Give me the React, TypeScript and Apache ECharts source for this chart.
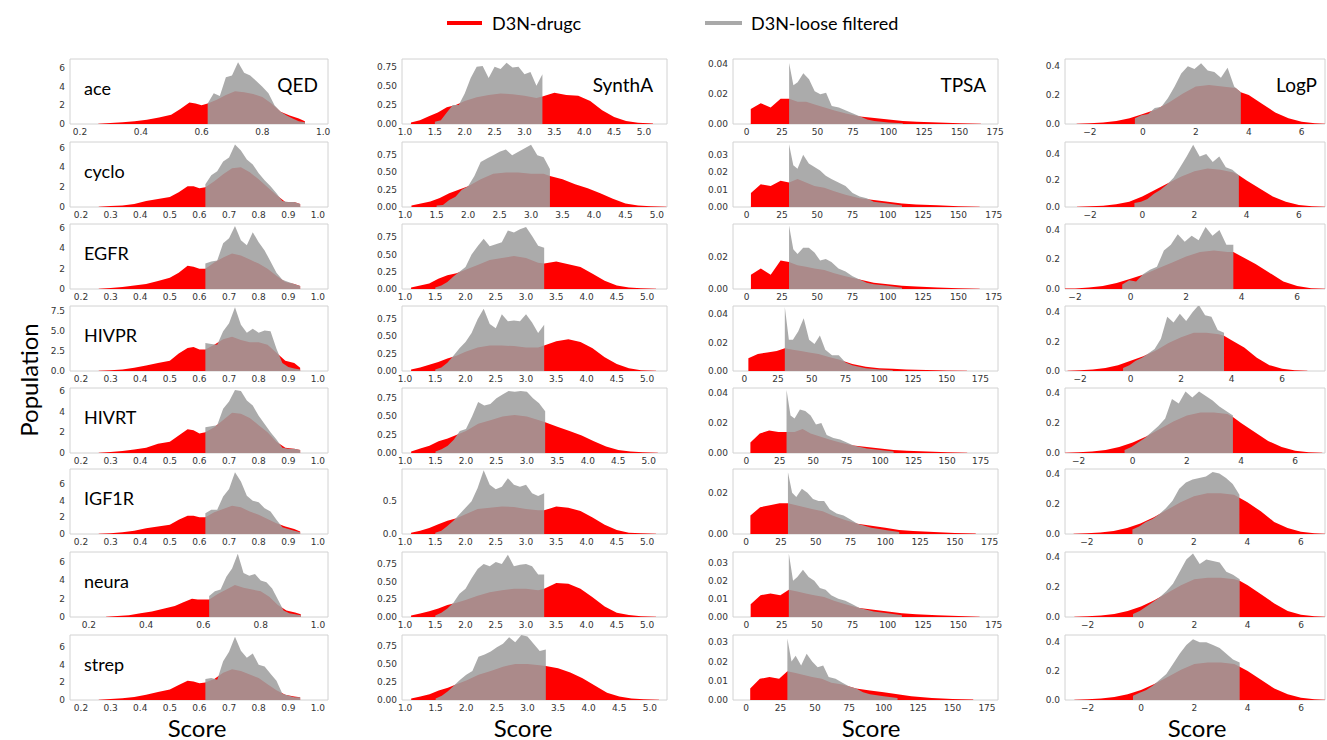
import React, { useEffect, useRef } from 'react';
import * as echarts from 'echarts';

// ---------- categories / labels ----------
const ROWS = ['ace', 'cyclo', 'EGFR', 'HIVPR', 'HIVRT', 'IGF1R', 'neura', 'strep'];
const TITLES = ['QED', 'SynthA', 'TPSA', 'LogP'];
const LEGEND = ['D3N-drugc', 'D3N-loose filtered'];

// ---------- QED ----------
const QED_RED_X = [0.26, 0.30, 0.34, 0.38, 0.42, 0.46, 0.50, 0.53, 0.56, 0.58, 0.60, 0.62, 0.65, 0.68, 0.71, 0.74, 0.77, 0.80, 0.83, 0.86, 0.89, 0.92, 0.94];
const QED_RED = [
  [0.02, 0.1, 0.2, 0.3, 0.45, 0.7, 1.0, 1.6, 2.3, 2.2, 2.0, 2.2, 2.6, 3.1, 3.5, 3.4, 3.2, 2.9, 2.2, 1.3, 0.9, 0.6, 0.3],
  [0.02, 0.1, 0.15, 0.3, 0.6, 0.8, 1.0, 1.5, 2.1, 2.1, 1.9, 2.0, 2.6, 3.3, 3.9, 4.0, 3.5, 2.8, 2.0, 1.2, 0.5, 0.5, 0.3],
  [0.02, 0.1, 0.2, 0.35, 0.5, 0.8, 1.1, 1.6, 2.3, 2.2, 2.0, 2.0, 2.6, 3.1, 3.5, 3.3, 2.9, 2.5, 2.0, 1.3, 0.7, 0.5, 0.3],
  [0.02, 0.1, 0.2, 0.4, 0.7, 1.0, 1.3, 2.2, 2.9, 3.0, 2.7, 2.7, 3.3, 4.0, 4.3, 3.9, 3.6, 3.6, 3.3, 2.3, 1.3, 1.0, 0.4],
  [0.02, 0.1, 0.2, 0.35, 0.5, 0.9, 1.1, 1.7, 2.3, 2.2, 1.9, 2.0, 2.5, 3.2, 3.9, 3.8, 3.4, 2.7, 2.0, 1.1, 0.5, 0.4, 0.3],
  [0.02, 0.1, 0.2, 0.4, 0.7, 0.9, 1.1, 1.7, 2.2, 2.2, 2.0, 2.0, 2.6, 3.0, 3.4, 3.2, 2.7, 2.3, 1.8, 1.3, 0.9, 0.6, 0.3],
  [0.02, 0.1, 0.2, 0.4, 0.6, 0.9, 1.2, 1.6, 2.0, 1.9, 1.9, 1.9, 2.5, 3.0, 3.5, 3.2, 3.0, 2.8, 2.2, 1.3, 0.7, 0.5, 0.3],
  [0.02, 0.1, 0.2, 0.35, 0.6, 0.9, 1.2, 1.7, 2.2, 2.1, 1.9, 2.0, 2.4, 3.1, 3.5, 3.3, 2.9, 2.5, 1.8, 1.1, 0.6, 0.4, 0.3],
];
const QED_GRAY_X = [0.62, 0.64, 0.66, 0.68, 0.70, 0.72, 0.74, 0.76, 0.78, 0.80, 0.82, 0.84, 0.86, 0.88, 0.90, 0.92, 0.94];
const QED_GRAY = [
  [2.2, 3.3, 3.0, 5.0, 5.2, 6.6, 5.5, 5.2, 4.6, 4.0, 3.3, 2.0, 1.3, 0.9, 0.6, 0.3, 0.2],
  [2.3, 3.2, 3.6, 4.6, 5.0, 6.3, 5.7, 4.8, 4.3, 3.4, 2.7, 2.1, 1.4, 0.6, 0.5, 0.5, 0.3],
  [2.5, 2.7, 2.8, 4.5, 5.0, 6.2, 4.8, 4.3, 5.6, 4.6, 3.8, 2.7, 1.6, 0.9, 0.7, 0.5, 0.3],
  [3.5, 3.4, 3.3, 5.0, 6.0, 8.0, 5.8, 4.8, 5.3, 4.8, 5.1, 5.0, 2.8, 1.0, 0.5, 0.3, 0.2],
  [2.5, 2.6, 2.7, 4.3, 5.0, 6.1, 6.0, 5.1, 4.6, 3.6, 2.8, 2.0, 1.3, 0.5, 0.4, 0.4, 0.3],
  [2.5, 2.9, 2.9, 4.5, 5.4, 7.4, 6.3, 4.6, 4.0, 3.8, 3.1, 2.7, 1.7, 0.8, 0.6, 0.4, 0.2],
  [2.3, 2.8, 3.0, 4.4, 5.3, 6.9, 4.8, 4.5, 4.7, 4.0, 3.8, 3.1, 1.9, 0.7, 0.4, 0.3, 0.2],
  [2.4, 2.5, 2.3, 4.4, 5.5, 7.2, 5.6, 4.8, 5.3, 4.0, 3.8, 3.0, 2.2, 0.7, 0.5, 0.3, 0.3],
];

// ---------- SynthA ----------
const SYN_RED_X = [1.1, 1.25, 1.4, 1.55, 1.7, 1.85, 2.0, 2.2, 2.4, 2.6, 2.8, 3.0, 3.2, 3.3, 3.5, 3.7, 3.9, 4.1, 4.3, 4.5, 4.7, 4.9, 5.15];
const SYN_RED = [
  [0.02, 0.05, 0.1, 0.15, 0.22, 0.25, 0.3, 0.35, 0.38, 0.4, 0.39, 0.37, 0.34, 0.36, 0.41, 0.38, 0.37, 0.3, 0.18, 0.09, 0.04, 0.015, 0.005],
  [0.02, 0.05, 0.08, 0.13, 0.2, 0.25, 0.3, 0.4, 0.48, 0.5, 0.5, 0.48, 0.48, 0.45, 0.4, 0.33, 0.27, 0.2, 0.12, 0.05, 0.02, 0.01, 0.003],
  [0.02, 0.05, 0.08, 0.15, 0.2, 0.23, 0.28, 0.35, 0.42, 0.45, 0.48, 0.45, 0.38, 0.37, 0.4, 0.36, 0.32, 0.22, 0.12, 0.05, 0.02, 0.01, 0.005],
  [0.02, 0.05, 0.09, 0.13, 0.18, 0.22, 0.28, 0.34, 0.37, 0.37, 0.36, 0.34, 0.34, 0.37, 0.43, 0.46, 0.42, 0.33, 0.2, 0.1, 0.04, 0.01, 0.005],
  [0.02, 0.06, 0.1, 0.16, 0.2, 0.25, 0.3, 0.4, 0.45, 0.5, 0.52, 0.5, 0.45, 0.42, 0.36, 0.3, 0.24, 0.16, 0.09, 0.04, 0.02, 0.01, 0.003],
  [0.02, 0.05, 0.09, 0.15, 0.2, 0.24, 0.3, 0.38, 0.4, 0.42, 0.41, 0.38, 0.36, 0.36, 0.42, 0.4, 0.35, 0.25, 0.14, 0.06, 0.02, 0.01, 0.005],
  [0.02, 0.05, 0.08, 0.12, 0.17, 0.2, 0.24, 0.3, 0.35, 0.38, 0.4, 0.4, 0.38, 0.4, 0.48, 0.47, 0.4, 0.28, 0.15, 0.06, 0.03, 0.01, 0.005],
  [0.02, 0.05, 0.08, 0.13, 0.17, 0.22, 0.27, 0.35, 0.4, 0.46, 0.5, 0.5, 0.48, 0.47, 0.44, 0.38, 0.3, 0.2, 0.1, 0.05, 0.02, 0.01, 0.003],
];
const SYN_GRAY_X = [1.5, 1.6, 1.7, 1.8, 1.9, 2.0, 2.1, 2.2, 2.3, 2.4, 2.5, 2.6, 2.7, 2.8, 2.9, 3.0, 3.1, 3.2, 3.3];
const SYN_GRAY = [
  [0.03, 0.05, 0.15, 0.25, 0.25, 0.4, 0.6, 0.75, 0.76, 0.6, 0.75, 0.72, 0.8, 0.74, 0.75, 0.65, 0.68, 0.5, 0.65],
  [0.02, 0.03, 0.1, 0.15, 0.25, 0.3, 0.45, 0.65, 0.7, 0.75, 0.8, 0.83, 0.75, 0.8, 0.85, 0.9, 0.75, 0.72, 0.55],
  [0.02, 0.05, 0.1, 0.18, 0.25, 0.32, 0.5, 0.62, 0.73, 0.62, 0.65, 0.68, 0.85, 0.82, 0.87, 0.9, 0.77, 0.63, 0.6],
  [0.02, 0.05, 0.12, 0.22, 0.33, 0.42, 0.55, 0.75, 0.9, 0.68, 0.62, 0.82, 0.72, 0.73, 0.72, 0.82, 0.7, 0.55, 0.67],
  [0.02, 0.05, 0.1, 0.18, 0.3, 0.33, 0.5, 0.7, 0.65, 0.67, 0.75, 0.8, 0.85, 0.84, 0.85, 0.84, 0.75, 0.68, 0.57],
  [0.02, 0.05, 0.12, 0.2, 0.3, 0.4, 0.5, 0.7, 0.97, 0.75, 0.68, 0.72, 0.85, 0.75, 0.72, 0.75, 0.62, 0.58, 0.62],
  [0.02, 0.06, 0.12, 0.2, 0.33, 0.4, 0.55, 0.68, 0.75, 0.72, 0.78, 0.75, 0.88, 0.72, 0.74, 0.75, 0.72, 0.6, 0.6],
  [0.02, 0.06, 0.12, 0.2, 0.28, 0.35, 0.4, 0.6, 0.63, 0.67, 0.73, 0.78, 0.87, 0.8, 0.9, 0.88, 0.78, 0.68, 0.7],
];

// ---------- TPSA ----------
const TPSA_RED_X = [3, 10, 17, 24, 30, 36, 42, 48, 55, 62, 70, 80, 90, 100, 110, 120, 135, 150, 165];
const TPSA_RED = [
  [0.01, 0.014, 0.011, 0.017, 0.017, 0.015, 0.015, 0.013, 0.011, 0.009, 0.007, 0.005, 0.004, 0.003, 0.002, 0.0015, 0.001, 0.0005, 0.0002],
  [0.008, 0.013, 0.012, 0.015, 0.014, 0.016, 0.014, 0.012, 0.011, 0.009, 0.007, 0.005, 0.004, 0.003, 0.002, 0.0015, 0.001, 0.0005, 0.0002],
  [0.009, 0.013, 0.009, 0.018, 0.017, 0.015, 0.014, 0.013, 0.012, 0.01, 0.008, 0.006, 0.004, 0.003, 0.002, 0.0015, 0.001, 0.0005, 0.0002],
  [0.009, 0.012, 0.013, 0.014, 0.016, 0.015, 0.014, 0.013, 0.012, 0.01, 0.008, 0.005, 0.003, 0.002, 0.0015, 0.001, 0.0007, 0.0004, 0.0002],
  [0.007, 0.013, 0.015, 0.014, 0.014, 0.014, 0.016, 0.013, 0.011, 0.009, 0.007, 0.005, 0.004, 0.003, 0.002, 0.0015, 0.001, 0.0005, 0.0002],
  [0.009, 0.013, 0.014, 0.015, 0.015, 0.014, 0.013, 0.012, 0.011, 0.009, 0.007, 0.005, 0.004, 0.003, 0.002, 0.0015, 0.001, 0.0005, 0.0002],
  [0.007, 0.012, 0.013, 0.012, 0.015, 0.014, 0.013, 0.012, 0.011, 0.009, 0.007, 0.005, 0.004, 0.003, 0.002, 0.0015, 0.001, 0.0005, 0.0002],
  [0.006, 0.011, 0.012, 0.011, 0.015, 0.014, 0.013, 0.012, 0.011, 0.009, 0.008, 0.006, 0.005, 0.004, 0.003, 0.002, 0.001, 0.0005, 0.0002],
];
const TPSA_GRAY_X = [30, 33, 36, 40, 44, 48, 52, 56, 60, 65, 70, 75, 80, 85, 90, 100, 110];
const TPSA_GRAY = [
  [0.041, 0.026, 0.028, 0.034, 0.03, 0.022, 0.02, 0.021, 0.012, 0.011, 0.009, 0.007, 0.005, 0.003, 0.002, 0.001, 0.0005],
  [0.036, 0.024, 0.022, 0.03, 0.025, 0.023, 0.021, 0.018, 0.016, 0.014, 0.012, 0.008, 0.006, 0.005, 0.003, 0.002, 0.0008],
  [0.04, 0.025, 0.022, 0.026, 0.026, 0.023, 0.018, 0.019, 0.017, 0.013, 0.011, 0.008, 0.006, 0.004, 0.003, 0.002, 0.0008],
  [0.045, 0.022, 0.022, 0.028, 0.037, 0.022, 0.019, 0.025, 0.015, 0.011, 0.011, 0.006, 0.004, 0.003, 0.002, 0.001, 0.0005],
  [0.042, 0.025, 0.023, 0.029, 0.028, 0.025, 0.019, 0.02, 0.012, 0.01, 0.009, 0.007, 0.005, 0.004, 0.003, 0.002, 0.001],
  [0.03, 0.02, 0.018, 0.022, 0.02, 0.017, 0.016, 0.016, 0.012, 0.01, 0.009, 0.007, 0.005, 0.004, 0.003, 0.002, 0.001],
  [0.035, 0.02, 0.022, 0.026, 0.022, 0.02, 0.016, 0.015, 0.012, 0.01, 0.009, 0.007, 0.005, 0.004, 0.003, 0.002, 0.001],
  [0.032, 0.02, 0.023, 0.018, 0.024, 0.02, 0.017, 0.018, 0.012, 0.011, 0.009, 0.007, 0.006, 0.004, 0.003, 0.002, 0.001],
];

// ---------- LogP ----------
const LOGP_RED_X = [-2.5, -2, -1.5, -1, -0.5, 0, 0.5, 1, 1.5, 2, 2.5, 3, 3.5, 3.7, 4, 4.5, 5, 5.5, 6, 6.5, 7];
const LOGP_RED = [
  [0.002, 0.005, 0.01, 0.02, 0.04, 0.07, 0.1, 0.15, 0.21, 0.26, 0.27, 0.26, 0.25, 0.22, 0.2, 0.14, 0.08, 0.04, 0.015, 0.005, 0.001],
  [0.002, 0.005, 0.01, 0.02, 0.04, 0.08, 0.13, 0.18, 0.23, 0.27, 0.29, 0.28, 0.26, 0.24, 0.2, 0.14, 0.08, 0.04, 0.015, 0.005, 0.001],
  [0.002, 0.004, 0.01, 0.02, 0.04, 0.07, 0.1, 0.14, 0.18, 0.22, 0.25, 0.26, 0.25, 0.25, 0.22, 0.17, 0.11, 0.05, 0.02, 0.005, 0.001],
  [0.002, 0.005, 0.01, 0.02, 0.04, 0.07, 0.1, 0.14, 0.19, 0.23, 0.26, 0.26, 0.25, 0.24, 0.21, 0.16, 0.09, 0.04, 0.015, 0.005, 0.001],
  [0.002, 0.005, 0.01, 0.02, 0.04, 0.07, 0.11, 0.16, 0.21, 0.25, 0.27, 0.27, 0.26, 0.24, 0.2, 0.14, 0.08, 0.04, 0.015, 0.005, 0.001],
  [0.002, 0.005, 0.01, 0.02, 0.04, 0.07, 0.11, 0.16, 0.21, 0.25, 0.27, 0.27, 0.26, 0.24, 0.21, 0.15, 0.08, 0.04, 0.015, 0.005, 0.001],
  [0.002, 0.005, 0.01, 0.02, 0.04, 0.07, 0.11, 0.16, 0.21, 0.25, 0.26, 0.26, 0.25, 0.24, 0.21, 0.15, 0.09, 0.04, 0.015, 0.005, 0.001],
  [0.002, 0.005, 0.01, 0.02, 0.04, 0.07, 0.11, 0.16, 0.21, 0.25, 0.26, 0.26, 0.25, 0.23, 0.2, 0.14, 0.08, 0.04, 0.015, 0.005, 0.001],
];
const LOGP_GRAY_X = [-0.3, -0.05, 0.2, 0.45, 0.7, 0.95, 1.2, 1.45, 1.7, 1.95, 2.2, 2.45, 2.7, 2.95, 3.2, 3.45, 3.7];
const LOGP_GRAY = [
  [0.04, 0.06, 0.07, 0.11, 0.12, 0.18, 0.26, 0.35, 0.4, 0.38, 0.42, 0.37, 0.36, 0.32, 0.39, 0.26, 0.22],
  [0.03, 0.04, 0.06, 0.1, 0.13, 0.17, 0.22, 0.3, 0.38, 0.47, 0.38, 0.4, 0.34, 0.38, 0.3, 0.28, 0.24],
  [0.03, 0.06, 0.05, 0.1, 0.13, 0.15, 0.26, 0.3, 0.37, 0.32, 0.36, 0.33, 0.42, 0.36, 0.4, 0.3, 0.3],
  [0.02, 0.04, 0.07, 0.09, 0.12, 0.15, 0.22, 0.37, 0.33, 0.39, 0.34, 0.4, 0.45, 0.38, 0.37, 0.28, 0.26],
  [0.02, 0.04, 0.07, 0.1, 0.14, 0.18, 0.23, 0.36, 0.33, 0.41, 0.37, 0.41, 0.38, 0.35, 0.31, 0.28, 0.25],
  [0.03, 0.05, 0.08, 0.1, 0.13, 0.17, 0.22, 0.3, 0.34, 0.36, 0.37, 0.38, 0.41, 0.4, 0.37, 0.33, 0.26],
  [0.02, 0.04, 0.07, 0.1, 0.13, 0.17, 0.22, 0.3, 0.38, 0.42, 0.35, 0.38, 0.37, 0.36, 0.3, 0.28, 0.25],
  [0.03, 0.05, 0.07, 0.1, 0.14, 0.18, 0.25, 0.32, 0.38, 0.42, 0.4, 0.4, 0.38, 0.36, 0.32, 0.28, 0.26],
];

// ---------- ticks ----------
const QED_TICKS_COARSE = [0.2, 0.4, 0.6, 0.8, 1.0];
const QED_TICKS_FINE = [0.2, 0.3, 0.4, 0.5, 0.6, 0.7, 0.8, 0.9, 1.0];
const SYN_TICKS = [1.0, 1.5, 2.0, 2.5, 3.0, 3.5, 4.0, 4.5, 5.0];
const TPSA_TICKS = [0, 25, 50, 75, 100, 125, 150, 175];
const LOGP_TICKS = [-2, 0, 2, 4, 6];
const QED_Y_TICKS = [0, 2, 4, 6];
const QED_Y_TICKS_HIVPR = [0, 2.5, 5, 7.5];
const SYN_Y_TICKS = [0, 0.25, 0.5, 0.75];
const SYN_Y_TICKS_IGF1R = [0, 0.5];
const TPSA_Y_TICKS_A = [0, 0.02, 0.04];
const TPSA_Y_TICKS_B = [0, 0.01, 0.02, 0.03];
const TPSA_Y_TICKS_C = [0, 0.02];
const LOGP_Y_TICKS = [0, 0.2, 0.4];

// axis ranges per panel (rows in ROWS order)
const QED_XMIN = [0.167, 0.163, 0.163, 0.163, 0.163, 0.163, 0.134, 0.163];
const QED_XMAX = [1.016, 1.034, 1.034, 1.034, 1.034, 1.034, 1.035, 1.034];
const SYN_XMIN = [0.95, 0.95, 0.95, 0.95, 0.95, 0.95, 0.95, 0.95];
const SYN_XMAX = [5.385, 5.16, 5.33, 5.33, 5.3, 5.33, 5.33, 5.28];
const TPSA_XMIN = [-9.5, -9.7, -9.7, -8.4, -10, -9.5, -9.5, -9.5];
const TPSA_XMAX = [177, 178, 178, 188, 188, 181, 178, 183];
const LOGP_XMIN = [-2.94, -2.96, -2.36, -2.6, -2.5, -2.82, -2.85, -2.85];
const LOGP_XMAX = [6.88, 7.0, 7.0, 7.7, 7.1, 6.9, 6.9, 6.9];
const QED_YMAX = [6.96, 6.56, 6.4, 8.16, 6.3, 7.8, 7.1, 7.4];
const SYN_YMAX = [0.85, 0.94, 0.945, 0.94, 0.89, 0.99, 0.92, 0.9];
const TPSA_YMAX = [0.0436, 0.0373, 0.041, 0.0457, 0.0434, 0.0316, 0.0358, 0.0338];
const LOGP_YMAX = [0.45, 0.49, 0.44, 0.443, 0.434, 0.43, 0.43, 0.45];

// ---------- layout ----------
const COL_LEFT = [70, 402, 733, 1065];
const COL_WIDTH = [258, 265, 265, 260];
const ROW_TOP = [59, 142, 224, 306, 388, 469, 552, 635];
const PANEL_H = 65;
const TITLE_RIGHT = [318, 653, 986, 1317];
const SCORE_X = [197, 523, 871, 1197];

const RED = '#ff0000';
const GRAY = 'rgb(158,158,158)';
const LABEL_FONT = 'Lato, "Open Sans", sans-serif';

function zip(xs: number[], ys: number[]) {
  return xs.map((x, i) => [x, ys[i]]);
}

function buildOption() {
  const grids: any[] = [];
  const xAxes: any[] = [];
  const yAxes: any[] = [];
  const series: any[] = [];
  const graphics: any[] = [];

  const cols = [
    {
      redX: QED_RED_X, red: QED_RED, grayX: QED_GRAY_X, gray: QED_GRAY,
      xMin: QED_XMIN, xMax: QED_XMAX, yMax: QED_YMAX,
      xTicks: (r: number) => (r === 0 || r === 6 ? QED_TICKS_COARSE : QED_TICKS_FINE),
      yTicks: (r: number) => (r === 3 ? QED_Y_TICKS_HIVPR : QED_Y_TICKS),
      xFmt: (v: number) => v.toFixed(1),
      yFmt: (v: number, r: number) => (r === 3 ? v.toFixed(1) : v.toFixed(0)),
    },
    {
      redX: SYN_RED_X, red: SYN_RED, grayX: SYN_GRAY_X, gray: SYN_GRAY,
      xMin: SYN_XMIN, xMax: SYN_XMAX, yMax: SYN_YMAX,
      xTicks: () => SYN_TICKS,
      yTicks: (r: number) => (r === 5 ? SYN_Y_TICKS_IGF1R : SYN_Y_TICKS),
      xFmt: (v: number) => v.toFixed(1),
      yFmt: (v: number, r: number) => (r === 5 ? v.toFixed(1) : v.toFixed(2)),
    },
    {
      redX: TPSA_RED_X, red: TPSA_RED, grayX: TPSA_GRAY_X, gray: TPSA_GRAY,
      xMin: TPSA_XMIN, xMax: TPSA_XMAX, yMax: TPSA_YMAX,
      xTicks: () => TPSA_TICKS,
      yTicks: (r: number) =>
        r === 1 || r === 6 || r === 7 ? TPSA_Y_TICKS_B : r === 2 || r === 5 ? TPSA_Y_TICKS_C : TPSA_Y_TICKS_A,
      xFmt: (v: number) => String(Math.round(v)),
      yFmt: (v: number) => v.toFixed(2),
    },
    {
      redX: LOGP_RED_X, red: LOGP_RED, grayX: LOGP_GRAY_X, gray: LOGP_GRAY,
      xMin: LOGP_XMIN, xMax: LOGP_XMAX, yMax: LOGP_YMAX,
      xTicks: () => LOGP_TICKS,
      yTicks: () => LOGP_Y_TICKS,
      xFmt: (v: number) => (v < 0 ? '\u2212' + String(Math.abs(v)) : String(v)),
      yFmt: (v: number) => v.toFixed(1),
    },
  ];

  cols.forEach((col, c) => {
    ROWS.forEach((_, r) => {
      const idx = grids.length;
      grids.push({
        left: COL_LEFT[c], top: ROW_TOP[r], width: COL_WIDTH[c], height: PANEL_H,
        show: true, borderColor: '#d2d2d2', borderWidth: 1, backgroundColor: 'transparent',
      });
      xAxes.push({
        type: 'value', gridIndex: idx, min: col.xMin[r], max: col.xMax[r],
        axisLine: { show: false }, axisTick: { show: false }, splitLine: { show: false },
        axisLabel: {
          customValues: col.xTicks(r), formatter: (v: number) => col.xFmt(v),
          fontSize: 9, color: '#333', margin: 3, fontFamily: 'DejaVu Sans',
        },
      });
      yAxes.push({
        type: 'value', gridIndex: idx, min: 0, max: col.yMax[r],
        axisLine: { show: false }, axisTick: { show: false }, splitLine: { show: false },
        axisLabel: {
          customValues: col.yTicks(r), formatter: (v: number) => col.yFmt(v, r),
          fontSize: 9, color: '#333', margin: 5, fontFamily: 'DejaVu Sans',
        },
      });
      series.push({
        type: 'line', xAxisIndex: idx, yAxisIndex: idx, name: LEGEND[0],
        data: zip(col.redX, col.red[r]), symbol: 'none', showSymbol: false, silent: true,
        lineStyle: { width: 0, opacity: 0 }, areaStyle: { color: RED, opacity: 1 }, z: 2,
      });
      series.push({
        type: 'line', xAxisIndex: idx, yAxisIndex: idx, name: LEGEND[1],
        data: zip(col.grayX, col.gray[r]), symbol: 'none', showSymbol: false, silent: true,
        lineStyle: { width: 0, opacity: 0 }, areaStyle: { color: GRAY, opacity: 0.87 }, z: 3,
      });
      if (c === 0) {
        graphics.push({
          type: 'text', x: 84, y: ROW_TOP[r] + 29, z: 10,
          style: { text: ROWS[r], font: `18px ${LABEL_FONT}`, fill: '#000', verticalAlign: 'middle', align: 'left' },
        });
      }
    });
    graphics.push({
      type: 'text', x: TITLE_RIGHT[c], y: ROW_TOP[0] + 25, z: 10,
      style: { text: TITLES[c], font: `19px ${LABEL_FONT}`, fill: '#000', verticalAlign: 'middle', align: 'right' },
    });
    graphics.push({
      type: 'text', x: SCORE_X[c], y: 727, z: 10,
      style: { text: 'Score', font: `24px ${LABEL_FONT}`, fill: '#000', verticalAlign: 'middle', align: 'center' },
    });
  });

  // legend
  graphics.push({ type: 'rect', shape: { x: 447, y: 21, width: 35, height: 4 }, style: { fill: RED } });
  graphics.push({
    type: 'text', x: 492, y: 23,
    style: { text: LEGEND[0], font: `18px ${LABEL_FONT}`, fill: '#000', verticalAlign: 'middle', align: 'left' },
  });
  graphics.push({ type: 'rect', shape: { x: 705, y: 21, width: 37, height: 4 }, style: { fill: '#a9a9a9' } });
  graphics.push({
    type: 'text', x: 751, y: 23,
    style: { text: LEGEND[1], font: `18px ${LABEL_FONT}`, fill: '#000', verticalAlign: 'middle', align: 'left' },
  });
  // y title
  graphics.push({
    type: 'text', x: 28, y: 380, rotation: Math.PI / 2,
    style: { text: 'Population', font: `24px ${LABEL_FONT}`, fill: '#000', verticalAlign: 'middle', align: 'center' },
  });

  return {
    animation: false,
    backgroundColor: '#ffffff',
    grid: grids,
    xAxis: xAxes,
    yAxis: yAxes,
    series,
    graphic: graphics,
  };
}

export default function App() {
  const ref = useRef<HTMLDivElement>(null);
  useEffect(() => {
    if (!ref.current) return;
    const chart = echarts.init(ref.current, null, { renderer: 'svg' });
    chart.setOption(buildOption() as any);
    return () => chart.dispose();
  }, []);
  return (
    <div
      ref={ref}
      style={{ position: 'absolute', left: 0, top: 0, width: 1327, height: 740, background: '#fff' }}
    />
  );
}
